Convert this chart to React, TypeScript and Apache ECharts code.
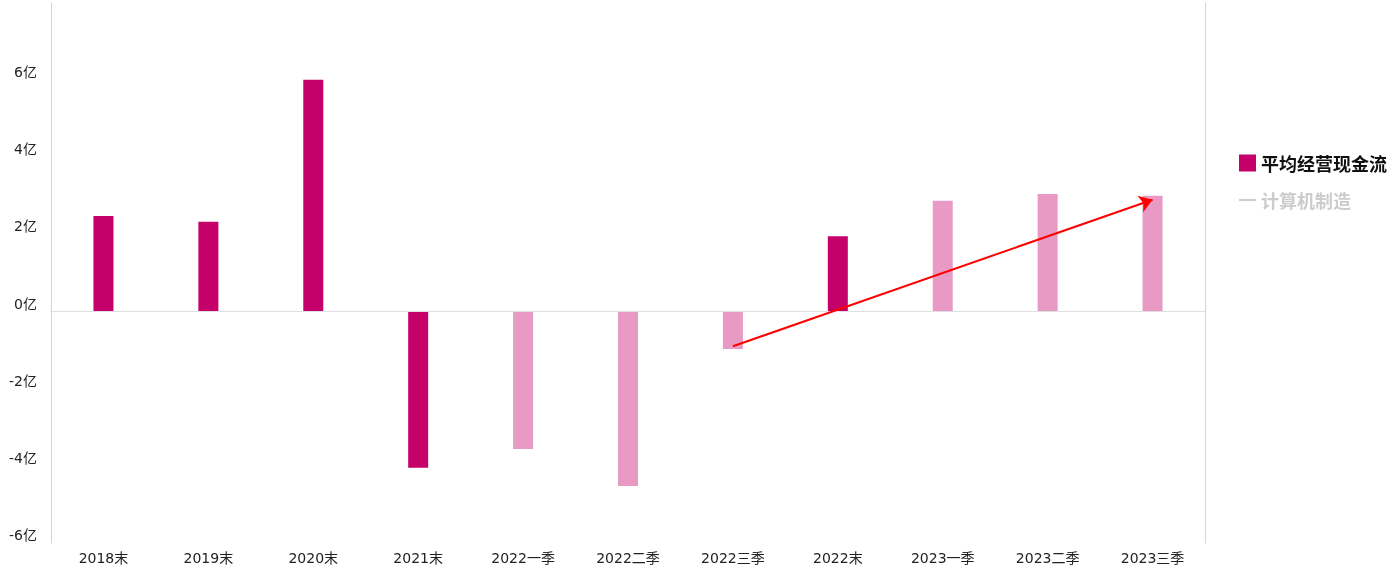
import React, { useEffect, useRef } from "react";
import * as echarts from "echarts";

const categories = [
  "2018末", "2019末", "2020末", "2021末", "2022一季", "2022二季",
  "2022三季", "2022末", "2023一季", "2023二季", "2023三季",
];
const cashFlow = [2.48, 2.33, 6.01, -4.05, -3.56, -4.52, -0.97, 1.95, 2.87, 3.05, 3.0];
const industry: number[] = [];
const yTicks = { min: -6, max: 8, interval: 2 };
const arrowFrom = { index: 6, value: -0.9 };
const arrowTo = { index: 10, value: 2.9 };

const DARK = "#c5006a";
const LIGHT = "#e89ac4";

export default function App() {
  const ref = useRef<HTMLDivElement>(null);
  useEffect(() => {
    if (!ref.current) return;
    const chart = echarts.init(ref.current, undefined, { renderer: "svg" });
    const font = "'DejaVu Sans', 'Noto Sans CJK SC', sans-serif";
    const cjk = "'Noto Sans CJK SC', sans-serif";
    chart.setOption({
      animation: false,
      textStyle: { fontFamily: font },
      grid: { left: 51, right: 188, top: 3, bottom: 39 },
      legend: {
        orient: "vertical",
        left: 1234,
        top: 149,
        itemWidth: 17,
        itemHeight: 17,
        itemGap: 19,
        inactiveColor: "#cccccc",
        textStyle: { fontSize: 18, fontWeight: "bold", color: "#111", fontFamily: cjk },
        selected: { "平均经营现金流": true, "计算机制造": false },
        data: [
          { name: "平均经营现金流", icon: "rect" },
          { name: "计算机制造", icon: "path://M0,0H16V2H0Z" },
        ],
      },
      xAxis: {
        type: "category",
        data: categories,
        axisLine: { lineStyle: { color: "#ccd6eb" } },
        axisTick: { show: false },
        axisLabel: { color: "#222", fontSize: 14, margin: 8, interval: 0, fontFamily: font },
      },
      yAxis: [
        {
          type: "value",
          min: yTicks.min,
          max: yTicks.max,
          interval: yTicks.interval,
          axisLine: { show: true, lineStyle: { color: "#ccd6eb" } },
          axisTick: { show: false },
          splitLine: { show: false },
          axisLabel: {
            color: "#222",
            fontSize: 14,
            margin: 14,
            verticalAlign: "bottom",
            lineHeight: 16,
            showMaxLabel: false,
            fontFamily: font,
            formatter: (v: number) => `${v}亿`,
          },
        },
        {
          type: "value",
          position: "right",
          min: yTicks.min,
          max: yTicks.max,
          interval: yTicks.interval,
          axisLine: { show: true, lineStyle: { color: "#ccd6eb" } },
          axisTick: { show: false },
          axisLabel: { show: false },
          splitLine: { show: false },
        },
      ],
      series: [
        {
          name: "平均经营现金流",
          type: "bar",
          barWidth: 20,
          itemStyle: { color: DARK },
          data: cashFlow.map((v, i) => ({
            value: v,
            itemStyle: { color: categories[i].endsWith("末") ? DARK : LIGHT },
          })),
          markLine: {
            silent: true,
            symbol: ["none", "none"],
            label: { show: false },
            data: [
              {
                yAxis: 0,
                lineStyle: { color: "#e0e0e0", width: 1, type: "solid" },
              },
              [
                {
                  coord: [arrowFrom.index, arrowFrom.value],
                  symbol: "none",
                  lineStyle: { color: "#ff0000", width: 2, type: "solid" },
                },
                {
                  coord: [arrowTo.index, arrowTo.value],
                  symbol: "arrow",
                  symbolSize: 13,
                },
              ],
            ],
          },
        },
        {
          name: "计算机制造",
          type: "line",
          symbol: "none",
          lineStyle: { width: 2 },
          data: industry,
        },
      ],
    });
    return () => chart.dispose();
  }, []);
  return (
    <div
      ref={ref}
      style={{ position: "fixed", left: 0, top: 0, width: 1393, height: 582 }}
    />
  );
}
